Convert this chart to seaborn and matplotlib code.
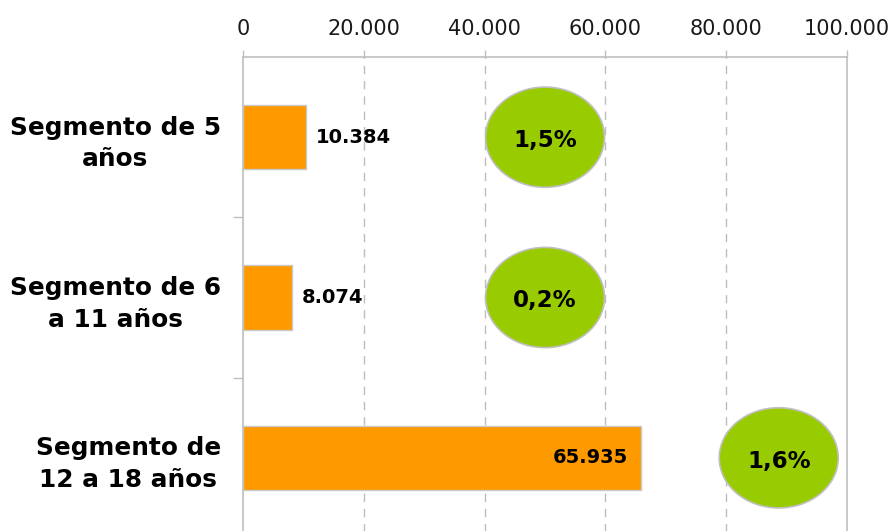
import numpy as np
import pandas as pd
import matplotlib
matplotlib.use("Agg")
import matplotlib.pyplot as plt
import seaborn as sns
from matplotlib.patches import Ellipse
from matplotlib.ticker import FuncFormatter, FixedLocator

# Data
segmentos = ["Segmento de 5\naños", "Segmento de 6\na 11 años", "Segmento de\n12 a 18 años"]
alumnos = [10384, 8074, 65935]
variacion = ["1,5%", "0,2%", "1,6%"]
burbuja_x = [50000, 50000, 88700]
xticks = [0, 20000, 40000, 60000, 80000, 100000]

df = pd.DataFrame({"segmento": segmentos, "alumnos": alumnos})

sns.set_theme(style="white")
plt.rcParams["font.family"] = ["DejaVu Sans"]

fig = plt.figure(figsize=(8.94, 5.31), dpi=100)
ax = fig.add_axes([243 / 894, 1 - 538 / 531, (847 - 243) / 894, (538 - 57) / 531])

sns.barplot(data=df, y="segmento", x="alumnos", orient="h", color="#FF9900",
            width=0.4, edgecolor="#c8c8c8", linewidth=1, saturation=1, ax=ax)

ax.set_xlim(0, 100000)
ax.set_ylim(2.5, -0.5)
ax.set_xlabel("")
ax.set_ylabel("")

# x axis on top
ax.xaxis.tick_top()
ax.set_xticks(xticks)
ax.xaxis.set_major_formatter(FuncFormatter(lambda v, p: f"{int(v):,}".replace(",", ".")))
ax.tick_params(axis="x", which="major", top=True, direction="out", length=5, width=1,
               color="#bfbfbf", pad=8, labelsize=15, labelcolor="#1a1a1a")
for gx in xticks[1:-1]:
    ax.axvline(gx, color="#bdbdbd", linestyle=(0, (6, 5)), linewidth=1, zorder=0)

# y axis
ax.tick_params(axis="y", which="major", length=0, pad=16)
ax.yaxis.set_minor_locator(FixedLocator([0.5, 1.5]))
ax.tick_params(axis="y", which="minor", left=True, length=7, width=1, color="#bfbfbf")
for t in ax.get_yticklabels():
    t.set_fontsize(17.8)
    t.set_fontweight("bold")
    t.set_multialignment("center")
    t.set_linespacing(1.4)
    t.set_color("black")

for side in ["top", "left", "right"]:
    ax.spines[side].set_visible(True)
    ax.spines[side].set_color("#bfbfbf")
    ax.spines[side].set_linewidth(1.2)
ax.spines["bottom"].set_visible(False)

# value labels
for i, v in enumerate(alumnos):
    txt = f"{v:,}".replace(",", ".")
    if v > 40000:
        ax.text(v - 2200, i, txt, ha="right", va="center", fontsize=14,
                fontweight="bold", color="black")
    else:
        ax.text(v + 1600, i, txt, ha="left", va="center", fontsize=14,
                fontweight="bold", color="black")

# bubbles
for i, (bx, lab) in enumerate(zip(burbuja_x, variacion)):
    e = Ellipse((bx, i), width=19700, height=0.625, facecolor="#99CC00",
                edgecolor="#bfbfbf", linewidth=1.2, zorder=3)
    ax.add_patch(e)
    ax.text(bx, i + 0.02, lab, ha="center", va="center", fontsize=16.5,
            fontweight="bold", color="black", zorder=4)

fig.savefig("out.png", dpi=100)
